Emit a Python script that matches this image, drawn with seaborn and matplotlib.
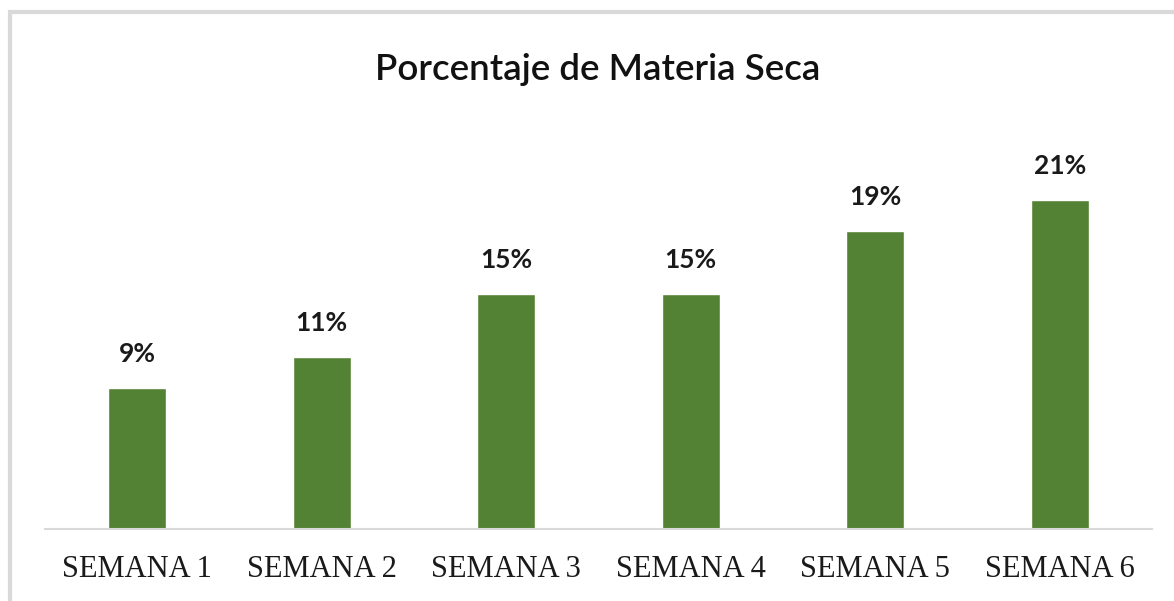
import matplotlib.pyplot as plt
import matplotlib.patches as patches
import seaborn as sns

semanas = ["SEMANA 1", "SEMANA 2", "SEMANA 3", "SEMANA 4", "SEMANA 5", "SEMANA 6"]
materia_seca = [9, 11, 15, 15, 19, 21]
etiquetas = ["9%", "11%", "15%", "15%", "19%", "21%"]

sns.set_style("white")

fig = plt.figure(figsize=(11.74, 6.01), dpi=100)
W, H = 1174, 601
ax = fig.add_axes([45 / W, 1 - 529 / H, (1152 - 45) / W, (529 - 150) / H])

# marco gris del gráfico
fig.patches.append(patches.Rectangle((9.5 / W, -0.05), 1.2, 1 - 12.5 / H + 0.05,
                                     transform=fig.transFigure, fill=False,
                                     edgecolor="#d9d9d9", linewidth=3))

sns.barplot(x=semanas, y=materia_seca, color="#548235", saturation=1,
            width=0.315, ax=ax)

ax.bar_label(ax.containers[0], labels=etiquetas, padding=16,
             fontsize=19, fontweight="bold", family="Lato", color="#1a1a1a")

ax.set_ylim(0, 24.2)
ax.set_xlim(-0.5, 5.5)
ax.set_yticks([])
ax.set_xlabel("")
ax.set_ylabel("")
for s in ["top", "left", "right"]:
    ax.spines[s].set_visible(False)
ax.spines["bottom"].set_color("#d9d9d9")
ax.spines["bottom"].set_linewidth(1.5)
ax.tick_params(axis="x", length=0, pad=19)
for lbl in ax.get_xticklabels():
    lbl.set_fontfamily("Liberation Serif")
    lbl.set_fontsize(22)
    lbl.set_color("#1a1a1a")

fig.text(598 / W, 1 - 70 / H, "Porcentaje de Materia Seca", ha="center", va="center",
         fontsize=26.5, family="Lato", fontweight="semibold", color="#111111")

fig.savefig("out.png", dpi=100, facecolor="white")
